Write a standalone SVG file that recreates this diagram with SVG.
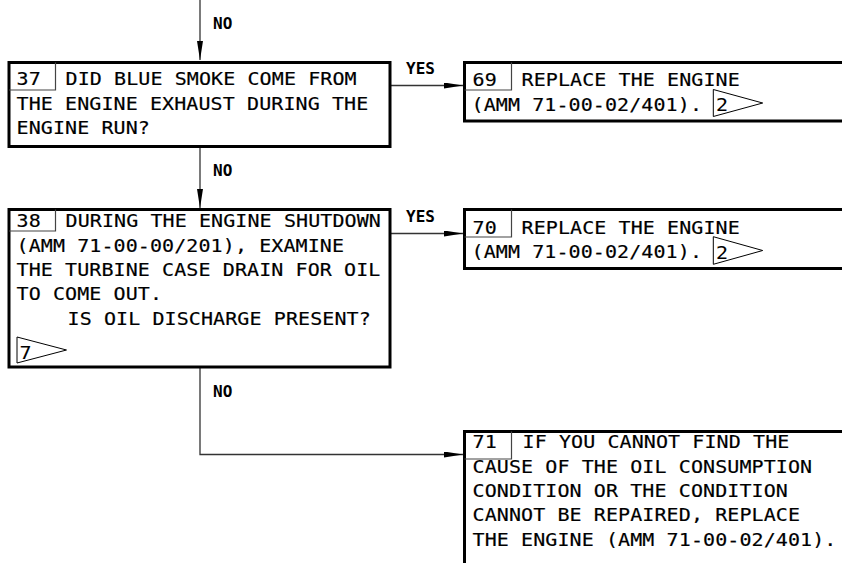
<svg xmlns="http://www.w3.org/2000/svg" width="842" height="563" viewBox="0 0 842 563">
<style>
.box{fill:#fff;stroke:#000;stroke-width:3}
.cell{fill:none;stroke:#444;stroke-width:1.2}
.flag{fill:#fff;stroke:#000;stroke-width:1}
.t{font-family:"DejaVu Sans Mono","Liberation Mono",monospace;font-size:20px;letter-spacing:0.1px;fill:#000;stroke:#000;stroke-width:0.2}
.f{font-family:"DejaVu Sans Mono","Liberation Mono",monospace;font-size:20px;fill:#000;stroke:#000;stroke-width:0.1}
.lbl{font-family:"DejaVu Sans Mono","Liberation Mono",monospace;font-size:16px;font-weight:bold;fill:#000}
.c{fill:none;stroke:#333;stroke-width:1.3}
</style>
<defs>
<marker id="ah" markerUnits="userSpaceOnUse" markerWidth="20" markerHeight="8" refX="19" refY="3" orient="auto">
<path d="M0,0 L19,3 L0,6 Z" fill="#000"/>
</marker>
</defs>
<rect width="842" height="563" fill="#fff"/>
<g id="connectors">
<path class="c" d="M200,0 V60" marker-end="url(#ah)"/>
<path class="c" d="M200,148 V208" marker-end="url(#ah)"/>
<path class="c" d="M391,85.5 H463" marker-end="url(#ah)"/>
<path class="c" d="M391,233.5 H463" marker-end="url(#ah)"/>
<path class="c" d="M200,368 V454.5 H463" marker-end="url(#ah)"/>
<text class="lbl" x="213" y="29">NO</text>
<text class="lbl" x="213" y="176">NO</text>
<text class="lbl" x="213" y="397">NO</text>
<text class="lbl" x="406" y="74">YES</text>
<text class="lbl" x="406" y="222">YES</text>
</g>
<g id="n37">
<rect class="box" x="9" y="62.5" width="381" height="84"/>
<path class="cell" d="M55.5,62.5 V90 H9"/>
<text class="t" transform="translate(16.5 85) scale(1 0.85)">37</text>
<text class="t" transform="translate(65.5 85) scale(1 0.85)">DID BLUE SMOKE COME FROM</text>
<text class="t" transform="translate(16.5 110) scale(1 0.85)">THE ENGINE EXHAUST DURING THE</text>
<text class="t" transform="translate(16.5 134) scale(1 0.85)">ENGINE RUN?</text>
</g>
<g id="n38">
<rect class="box" x="9" y="209.5" width="381" height="157.5"/>
<path class="cell" d="M55.5,209.5 V231 H9"/>
<text class="t" transform="translate(16.5 227) scale(1 0.85)">38</text>
<text class="t" transform="translate(65.5 227) scale(1 0.85)">DURING THE ENGINE SHUTDOWN</text>
<text class="t" transform="translate(16.5 251.5) scale(1 0.85)">(AMM 71-00-00/201), EXAMINE</text>
<text class="t" transform="translate(16.5 276) scale(1 0.85)">THE TURBINE CASE DRAIN FOR OIL</text>
<text class="t" transform="translate(16.5 300) scale(1 0.85)">TO COME OUT.</text>
<text class="t" transform="translate(67.5 324.5) scale(1 0.85)">IS OIL DISCHARGE PRESENT?</text>
<polygon class="flag" points="17,337 66.5,350 17,363"/>
<text class="f" transform="translate(19.5 358.5) scale(1 0.85)">7</text>
</g>
<g id="n69">
<rect class="box" x="464.5" y="62.5" width="400" height="58.5"/>
<path class="cell" d="M511.5,62.5 V90 H464.5"/>
<text class="t" transform="translate(472.5 85.5) scale(1 0.85)">69</text>
<text class="t" transform="translate(521.5 85.5) scale(1 0.85)">REPLACE THE ENGINE</text>
<text class="t" transform="translate(471.5 110.5) scale(1 0.85)">(AMM 71-00-02/401).</text>
<polygon class="flag" points="713.3,89.5 762.7,103 713.3,116.5"/>
<text class="f" transform="translate(716 111) scale(1 0.85)">2</text>
</g>
<g id="n70">
<rect class="box" x="464.5" y="209.5" width="400" height="59"/>
<path class="cell" d="M511.5,209.5 V237 H464.5"/>
<text class="t" transform="translate(472.5 233.5) scale(1 0.85)">70</text>
<text class="t" transform="translate(521.5 233.5) scale(1 0.85)">REPLACE THE ENGINE</text>
<text class="t" transform="translate(471.5 257.5) scale(1 0.85)">(AMM 71-00-02/401).</text>
<polygon class="flag" points="713.3,236.7 762.7,250.5 713.3,264.3"/>
<text class="f" transform="translate(716 258.5) scale(1 0.85)">2</text>
</g>
<g id="n71">
<rect class="box" x="464.5" y="431.5" width="400" height="200"/>
<path class="cell" d="M511.5,431.5 V459 H464.5"/>
<text class="t" transform="translate(472.5 447.5) scale(1 0.85)">71</text>
<text class="t" transform="translate(522.5 447.5) scale(1 0.85)">IF YOU CANNOT FIND THE</text>
<text class="t" transform="translate(472.5 472.5) scale(1 0.85)">CAUSE OF THE OIL CONSUMPTION</text>
<text class="t" transform="translate(472.5 496.5) scale(1 0.85)">CONDITION OR THE CONDITION</text>
<text class="t" transform="translate(472.5 521) scale(1 0.85)">CANNOT BE REPAIRED, REPLACE</text>
<text class="t" transform="translate(472.5 545.5) scale(1 0.85)">THE ENGINE (AMM 71-00-02/401).</text>
</g>
</svg>
